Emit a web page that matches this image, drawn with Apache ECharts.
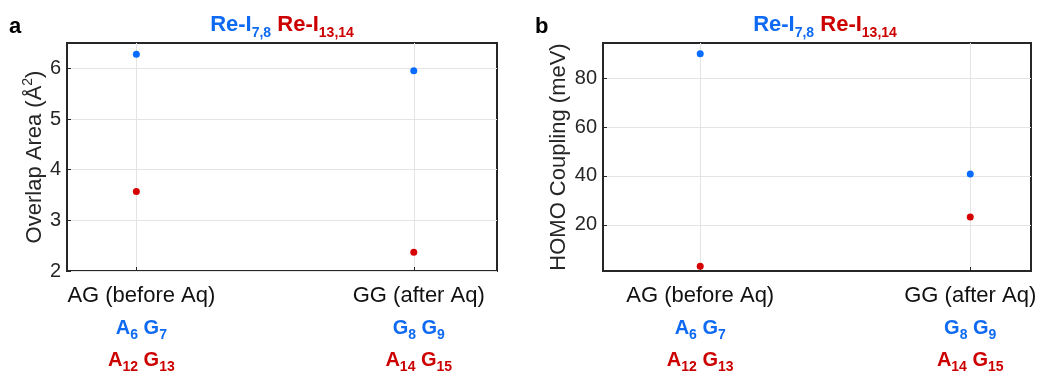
<!DOCTYPE html>
<html>
<head>
<meta charset="utf-8">
<script src="https://cdn.jsdelivr.net/npm/echarts@6/dist/echarts.min.js"></script>
<style>
html,body{margin:0;padding:0;background:#fff;}
#chart{width:1046px;height:371px;}
</style>
</head>
<body>
<div id="chart"></div>
<script>
// ---- data ----
const categories = ['AG (before Aq)', 'GG (after Aq)'];
const categoryPositions = [1, 2];
const blueLabels = [['A', '6', 'G', '7'], ['G', '8', 'G', '9']];
const redLabels = [['A', '12', 'G', '13'], ['A', '14', 'G', '15']];
const overlapBlue = [6.28, 5.95];
const overlapRed = [3.57, 2.37];
const couplingBlue = [89.9, 40.8];
const couplingRed = [3.1, 23.3];
const overlapTicks = [2, 3, 4, 5, 6];
const couplingTicks = [20, 40, 60, 80];
const seriesNames = [['Re-I', '7,8'], ['Re-I', '13,14']];
const panelLetters = ['a', 'b'];

const BLUE = '#0f6af2';
const RED = '#cc0000';
const DOT_BLUE = '#0a6cff';
const DOT_RED = '#d60000';
const INK = '#262626';
const FONT = "'Liberation Sans', Arial, Helvetica, sans-serif";

const chart = echarts.init(document.getElementById('chart'), null, {renderer: 'canvas'});

function xLabel(val) {
  const i = categoryPositions.indexOf(Math.round(val));
  if (i < 0) return '';
  const b = blueLabels[i], r = redLabels[i];
  return '{n|' + categories[i] + '}\n' +
    '{b|' + b[0] + '}{bs|' + b[1] + '}{b| ' + b[2] + '}{bs|' + b[3] + '}\n' +
    '{r|' + r[0] + '}{rs|' + r[1] + '}{r| ' + r[2] + '}{rs|' + r[3] + '}';
}

function tok(color, size, bold, lh, h) {
  return {fontSize: size, lineHeight: lh, height: h, color: color, fontWeight: bold ? 'bold' : 'normal',
          fontFamily: FONT, verticalAlign: 'bottom'};
}

const xRich = {
  n: tok('#111', 22, false, 24, 24),
  b: tok(BLUE, 20, true, 32, 24),
  bs: tok(BLUE, 14, true, 10, 10),
  r: tok(RED, 20, true, 32, 24),
  rs: tok(RED, 14, true, 10, 10)
};

function ztok(fill, size, h) {
  return {fontSize: size, lineHeight: h, height: h, fill: fill, fontWeight: 'bold', fontFamily: FONT, verticalAlign: 'bottom'};
}
const titleRich = {
  b: ztok(BLUE, 22, 24),
  bs: ztok(BLUE, 14, 8),
  r: ztok(RED, 22, 24),
  rs: ztok(RED, 14, 8)
};
const titleText = '{b|' + seriesNames[0][0] + '}{bs|' + seriesNames[0][1] + '}{b| }{r|' +
  seriesNames[1][0] + '}{rs|' + seriesNames[1][1] + '}';

const grids = [
  {left: 67, top: 43, width: 430, height: 228, show: true, borderColor: INK, borderWidth: 2, backgroundColor: '#fff', containLabel: false, outerBoundsMode: 'none'},
  {left: 603, top: 43, width: 428, height: 228, show: true, borderColor: INK, borderWidth: 2, backgroundColor: '#fff', containLabel: false, outerBoundsMode: 'none'}
];

function xAxisCfg(gridIndex, min, max, padLeft) {
  return {
    type: 'value', gridIndex, min, max,
    axisLine: {show: false},
    axisTick: {show: true, inside: true, length: 4, lineStyle: {color: INK}, customValues: categoryPositions},
    splitLine: {show: true, lineStyle: {color: '#e4e4e4', width: 1}},
    axisLabel: {
      customValues: categoryPositions, formatter: xLabel, rich: xRich, margin: 13,
      padding: [0, 0, 0, padLeft], fontFamily: FONT, fontSize: 22, color: '#111'
    }
  };
}

function yAxisCfg(gridIndex, min, max, ticks, name, rich, nameGap) {
  return {
    type: 'value', gridIndex, min, max,
    name, nameLocation: 'middle', nameGap, nameRotate: 90, nameMoveOverlap: false,
    nameTextStyle: {fontSize: 22, lineHeight: 24, color: INK, fontFamily: FONT, rich},
    axisLine: {show: false},
    axisTick: {show: true, inside: true, length: 4, lineStyle: {color: INK}, customValues: ticks},
    splitLine: {show: true, lineStyle: {color: '#e4e4e4', width: 1}},
    axisLabel: {customValues: ticks, fontSize: 20, color: INK, fontFamily: FONT, margin: 6}
  };
}

const supRich = {
  sup: {fontSize: 14, lineHeight: 10, height: 10, color: INK, fontFamily: FONT, verticalAlign: 'top'}
};

function pts(vals) { return vals.map((v, i) => [categoryPositions[i], v]); }

const scatterBase = {type: 'scatter', symbolSize: 7, z: 5, emphasis: {disabled: true}};

chart.setOption({
  animation: false,
  backgroundColor: '#fff',
  textStyle: {fontFamily: FONT},
  grid: grids,
  xAxis: [xAxisCfg(0, 0.75, 2.3, 10), xAxisCfg(1, 0.64, 2.225, 0)],
  yAxis: [
    yAxisCfg(0, 2, 6.5, overlapTicks, 'Overlap Area (Å{sup|2})', supRich, 20),
    yAxisCfg(1, 1.2, 94.3, couplingTicks, 'HOMO Coupling (meV)', supRich, 32)
  ],
  series: [
    Object.assign({}, scatterBase, {xAxisIndex: 0, yAxisIndex: 0, data: pts(overlapBlue), itemStyle: {color: DOT_BLUE, opacity: 1}}),
    Object.assign({}, scatterBase, {xAxisIndex: 0, yAxisIndex: 0, data: pts(overlapRed), itemStyle: {color: DOT_RED, opacity: 1}}),
    Object.assign({}, scatterBase, {xAxisIndex: 1, yAxisIndex: 1, data: pts(couplingBlue), itemStyle: {color: DOT_BLUE, opacity: 1}}),
    Object.assign({}, scatterBase, {xAxisIndex: 1, yAxisIndex: 1, data: pts(couplingRed), itemStyle: {color: DOT_RED, opacity: 1}})
  ],
  graphic: [
    {type: 'text', x: 282, y: 25, style: {text: titleText, rich: titleRich, align: 'center', verticalAlign: 'middle'}},
    {type: 'text', x: 825, y: 25, style: {text: titleText, rich: titleRich, align: 'center', verticalAlign: 'middle'}},
    {type: 'text', x: 9, y: 27, style: {text: panelLetters[0], fontSize: 22, fontWeight: 'bold', fill: '#000', fontFamily: FONT, verticalAlign: 'middle'}},
    {type: 'text', x: 535, y: 27, style: {text: panelLetters[1], fontSize: 22, fontWeight: 'bold', fill: '#000', fontFamily: FONT, verticalAlign: 'middle'}}
  ]
});
</script>
</body>
</html>
